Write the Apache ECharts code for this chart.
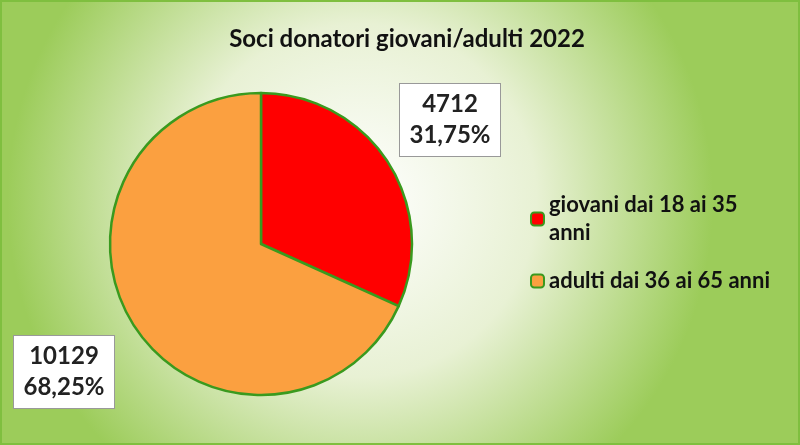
<!DOCTYPE html>
<html>
<head>
<meta charset="utf-8">
<script src="https://cdn.jsdelivr.net/npm/echarts@6/dist/echarts.min.js"></script>
<style>
html, body { margin: 0; padding: 0; }
#chart { width: 800px; height: 445px; box-sizing: border-box; border: 2px solid #7fbf3f; }
</style>
</head>
<body>
<div id="chart"></div>
<script>
const categories = ['giovani dai 18 ai 35 anni', 'adulti dai 36 ai 65 anni'];
const legendLabels = ['giovani dai 18 ai 35\nanni', 'adulti dai 36 ai 65 anni'];
const values = [4712, 10129];
const percents = ['31,75%', '68,25%'];
const colors = ['#ff0000', '#fba040'];

// posizione delle etichette (centro della casella)
const labelPos = [[448, 118], [62, 370]];

const chart = echarts.init(document.getElementById('chart'));
const font = 'Lato, sans-serif';

const option = {
    backgroundColor: {
        type: 'radial', x: 0.45, y: 0.45, r: 0.8,
        colorStops: [
            { offset: 0, color: '#ffffff' },
            { offset: 0.5, color: '#e8f1d4' },
            { offset: 1, color: '#9ccc5a' }
        ]
    },
    title: {
        text: 'Soci donatori giovani/adulti 2022',
        left: 400, top: 20, textAlign: 'center',
        textStyle: { fontFamily: font, fontSize: 24, fontWeight: 'bold', color: '#111' }
    },
    legend: {
        orient: 'vertical',
        left: 523, top: 184,
        itemWidth: 13, itemHeight: 13, itemGap: 20,
        data: categories,
        formatter: function (name) {
            return legendLabels[categories.indexOf(name)];
        },
        textStyle: { fontFamily: font, fontSize: 22, fontWeight: 'bold', color: '#111', lineHeight: 28 },
        itemStyle: { borderColor: '#3a9a1e', borderWidth: 2 }
    },
    series: [{
        type: 'pie',
        center: [259, 242],
        radius: 151,
        startAngle: 90,
        clockwise: true,
        silent: true,
        itemStyle: { borderColor: '#3a9a1e', borderWidth: 2.5 },
        labelLine: { show: false },
        label: {
            show: true,
            position: 'outside',
            formatter: function (p) { return p.value + '\n' + percents[p.dataIndex]; },
            fontFamily: font, fontSize: 24, fontWeight: 'bold', color: '#222', lineHeight: 31,
            backgroundColor: '#ffffff', borderColor: '#999', borderWidth: 1,
            padding: [6, 8, 4, 8], align: 'center', overflow: 'none', width: 84
        },
        labelLayout: function (params) {
            const p = labelPos[params.dataIndex];
            return { x: p[0], y: p[1], align: 'center', verticalAlign: 'middle' };
        },
        data: categories.map((c, i) => ({ name: c, value: values[i], itemStyle: { color: colors[i] } }))
    }]
};

chart.setOption(option);
</script>
</body>
</html>
